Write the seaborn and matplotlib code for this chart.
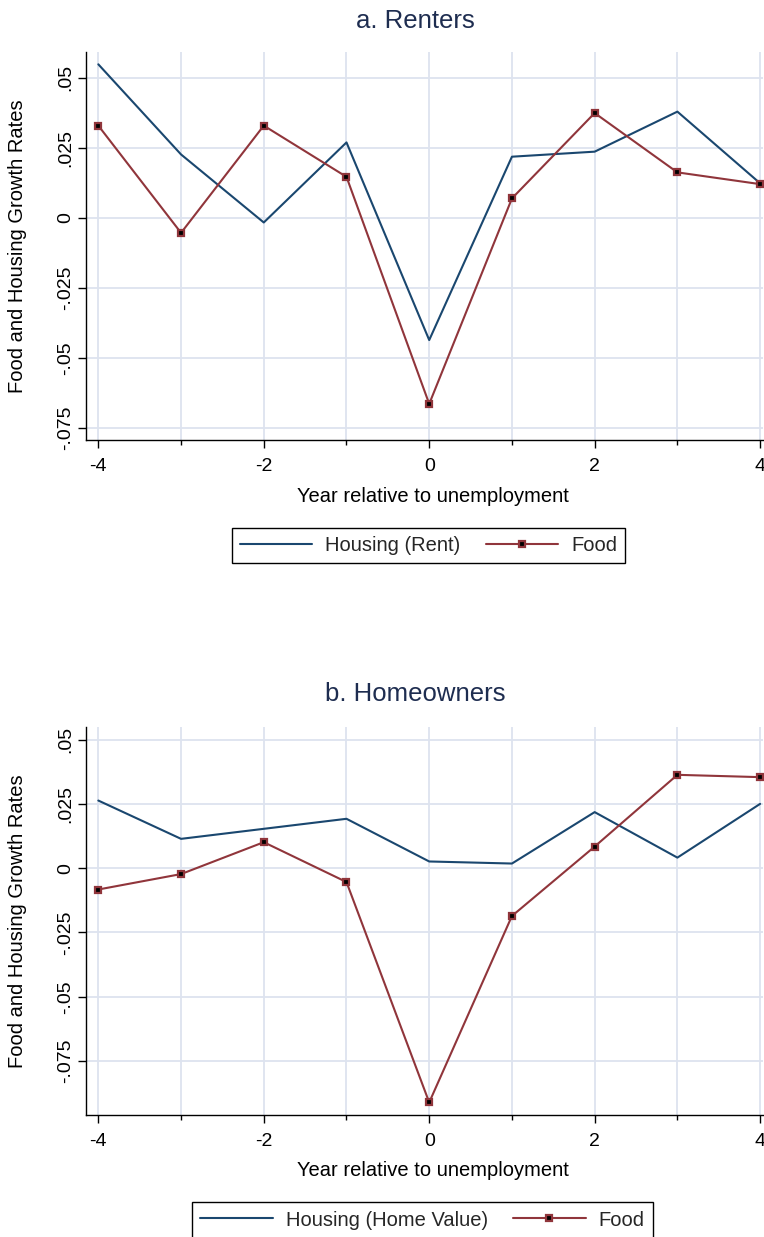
import numpy as np
import pandas as pd
import matplotlib
matplotlib.use("Agg")
import matplotlib.pyplot as plt
import seaborn as sns
from matplotlib.lines import Line2D
from matplotlib.ticker import FixedLocator

# ---------------- data ----------------
years = [-4, -3, -2, -1, 0, 1, 2, 3, 4]

renters_housing = [0.0548, 0.0226, -0.0017, 0.0269, -0.0437, 0.0218, 0.0236, 0.0379, 0.0123]
renters_food = [0.0329, -0.0054, 0.0329, 0.0146, -0.0665, 0.0069, 0.0374, 0.0162, 0.0120]

owners_housing = [0.0263, 0.0114, 0.0153, 0.0192, 0.0026, 0.0018, 0.0218, 0.0041, 0.0250]
owners_food = [-0.0083, -0.0023, 0.0101, -0.0054, -0.0911, -0.0186, 0.0084, 0.0363, 0.0354]

ytick_vals = [0.05, 0.025, 0, -0.025, -0.05, -0.075]
ytick_labels = [".05", ".025", "0", "-.025", "-.05", "-.075"]
xtick_major = [-4, -2, 0, 2, 4]
xtick_labels = ["-4", "-2", "0", "2", "4"]

titles = ["a. Renters", "b. Homeowners"]
housing_labels = ["Housing (Rent)", "Housing (Home Value)"]
xlabel = "Year relative to unemployment"
ylabel = "Food and Housing Growth Rates"

# ---------------- style ----------------
sns.set_theme(style="white")
plt.rcParams["font.family"] = ["Liberation Sans", "DejaVu Sans"]

NAVY = "#1a476f"
MAROON = "#90353b"
GRID = "#dde3ef"
TITLE_C = "#1e2d50"

W, H = 764, 1237
fig = plt.figure(figsize=(W / 100, H / 100), dpi=100)

def fr(x0, y_top, x1, y_bot):
    return [x0 / W, 1 - y_bot / H, (x1 - x0) / W, (y_bot - y_top) / H]

ax_specs = [
    dict(rect=fr(86, 52, 763, 440), ylim=(-0.0794, 0.0592),
         housing=renters_housing, food=renters_food,
         title_y=21, xlabel_y=497, leg_center=(428.5, 545.5)),
    dict(rect=fr(86, 727, 763, 1115), ylim=(-0.096, 0.0549),
         housing=owners_housing, food=owners_food,
         title_y=694, xlabel_y=1170, leg_center=(422.5, 1220)),
]

for i, spec in enumerate(ax_specs):
    ax = fig.add_axes(spec["rect"])
    df = pd.DataFrame({"year": years, "housing": spec["housing"], "food": spec["food"]})
    sns.lineplot(data=df, x="year", y="housing", ax=ax, color=NAVY, linewidth=1.5,
                 zorder=3)
    sns.lineplot(data=df, x="year", y="food", ax=ax, color=MAROON, linewidth=1.5,
                 marker="s", markersize=5, markerfacecolor="black",
                 markeredgecolor=MAROON, markeredgewidth=1.6, zorder=4)

    ax.set_xlim(-4.149, 4.035)
    ax.set_ylim(*spec["ylim"])

    ax.xaxis.set_major_locator(FixedLocator(xtick_major))
    ax.set_xticklabels(xtick_labels)
    ax.xaxis.set_minor_locator(FixedLocator([-3, -1, 1, 3]))
    ax.set_yticks(ytick_vals)
    ax.set_yticklabels(ytick_labels, rotation=90, va="center")

    ax.grid(True, which="both", axis="x", color=GRID, linewidth=1.3, zorder=0)
    ax.grid(True, which="major", axis="y", color=GRID, linewidth=1.3, zorder=0)
    ax.set_axisbelow(True)

    for s in ["top", "right"]:
        ax.spines[s].set_visible(False)
    for s in ["left", "bottom"]:
        ax.spines[s].set_color("black")
        ax.spines[s].set_linewidth(1.0)

    ax.tick_params(axis="x", which="major", direction="out", length=6, width=1,
                   color="black", labelsize=14, pad=7, labelcolor="black", bottom=True)
    ax.tick_params(axis="x", which="minor", direction="out", length=3.5, width=1,
                   color="black", bottom=True)
    ax.tick_params(axis="y", which="major", direction="out", length=6, width=1,
                   color="black", labelsize=14, pad=2.5, labelcolor="black", left=True)

    ax.set_xlabel("")
    ax.set_ylabel("")

    fig.text(415 / W, 1 - spec["title_y"] / H, titles[i], ha="center", va="center",
             fontsize=18.5, color=TITLE_C)
    fig.text(433 / W, 1 - spec["xlabel_y"] / H, xlabel, ha="center", va="center",
             fontsize=14.5, color="black")
    yc = (spec["rect"][1] + spec["rect"][3] / 2)
    fig.text(18 / W, yc, ylabel, ha="center", va="center", rotation=90,
             fontsize=14.5, color="black")

    handles = [
        Line2D([], [], color=NAVY, linewidth=1.5),
        Line2D([], [], color=MAROON, linewidth=1.5, marker="s", markersize=5,
               markerfacecolor="black", markeredgecolor=MAROON, markeredgewidth=1.6),
    ]
    cx, cy = spec["leg_center"]
    leg = fig.legend(handles, [housing_labels[i], "Food"], ncol=2,
                     loc="center", bbox_to_anchor=(cx / W, 1 - cy / H),
                     frameon=True, fancybox=False, fontsize=14.5,
                     handlelength=3.6, handletextpad=0.65, columnspacing=1.25,
                     borderpad=0.4, edgecolor="black", framealpha=1)
    leg.get_frame().set_linewidth(1.0)

fig.savefig("out.png", dpi=100)
